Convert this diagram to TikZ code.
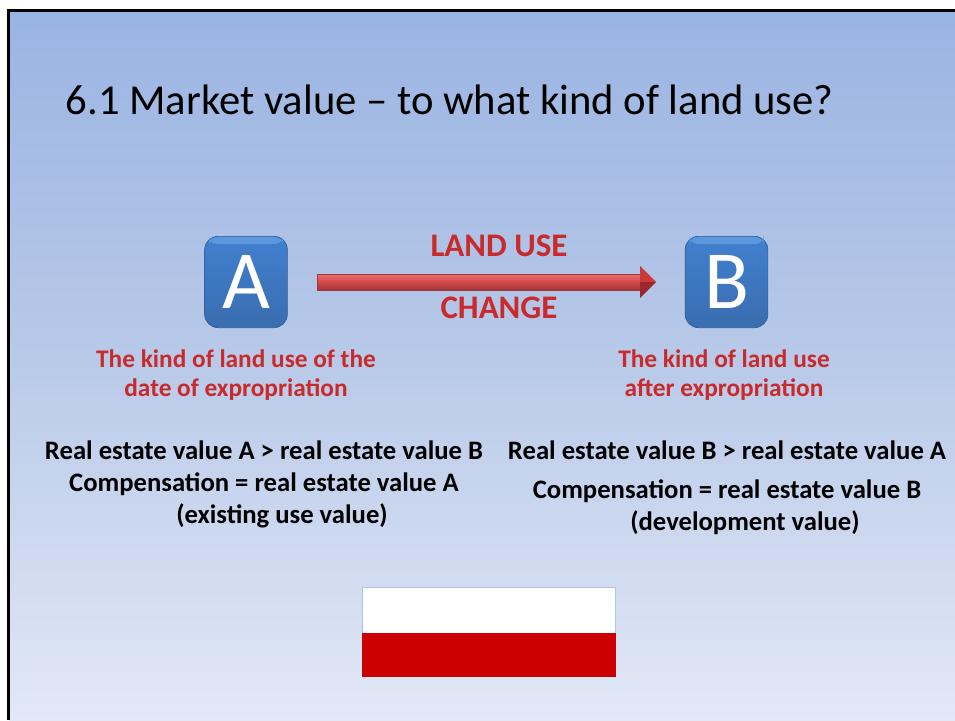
\documentclass[tikz,border=0pt]{standalone}
\usepackage{fontspec}
\setmainfont{Carlito}
\usetikzlibrary{calc}
\definecolor{bgtop}{HTML}{9AB4E2}
\definecolor{bgmid}{HTML}{B9CAE9}
\definecolor{bgbot}{HTML}{E2E8F6}
\definecolor{boxtop}{HTML}{4180CF}
\definecolor{boxbot}{HTML}{3A6DB0}
\definecolor{boxhi}{HTML}{5C97DD}
\definecolor{labred}{HTML}{C92A2A}
\definecolor{arrowtop}{HTML}{EE6E6E}
\definecolor{arrowmid}{HTML}{CF4A4A}
\definecolor{arrowbot}{HTML}{A03636}
\definecolor{headup}{HTML}{C93A3A}
\definecolor{headlow}{HTML}{9A2A2A}
\definecolor{flagred}{HTML}{CC0000}
\tikzset{
  x=0.75pt,y=-0.75pt,
  letterbox/.style={rounded corners=10pt,top color=boxtop,bottom color=boxbot,draw=boxbot!85!black,line width=0.5pt,
    minimum width=62pt,minimum height=68.5pt,text=white,inner sep=0pt,font=\fontsize{62}{62}\selectfont},
  redlabel/.style={text=labred,font=\bfseries\fontsize{19}{21.75}\selectfont,align=center,inner sep=0pt},
  bigred/.style={text=labred,font=\bfseries\fontsize{24.7}{28}\selectfont,inner sep=0pt},
  bodytext/.style={text=black,font=\bfseries\fontsize{20}{24}\selectfont,inner sep=0pt,align=center},
}
\begin{document}
\begin{tikzpicture}
\useasboundingbox (0,0) rectangle (955,720);
\fill[white] (0,0) rectangle (955,720);
\shade[top color=bgtop,bottom color=bgbot,middle color=bgmid] (9,11) rectangle (955,720);
\draw[black,line width=2.4pt] (8.5,720) -- (8.5,10.5) -- (955,10.5);
\node[anchor=west,inner sep=0pt,font=\fontsize{32}{38}\selectfont] (title) at (65.5,100) {6.1 Market value – to what kind of land use?};
\node[letterbox] (a) at (246,282) {A\hspace{3pt}};
\node[letterbox] (b) at (726.5,282) {B};
\fill[boxhi,rounded corners=6pt] (209,237) rectangle (283,244);
\fill[boxhi,rounded corners=6pt] (689.5,237) rectangle (763.5,244);
\coordinate (arrowstart) at (317,282);
\coordinate (arrowend) at (656,282);
\shade[top color=arrowtop,bottom color=arrowbot,middle color=arrowmid,draw=arrowbot,line width=0.3pt]
  (arrowstart) ++(0,-8) -- (641,274) -- (641,290) -- (317,290) -- cycle;
\fill[headup] (640,266) -- (arrowend) -- (640,282) -- cycle;
\fill[headlow] (640,298) -- (arrowend) -- (640,282) -- cycle;
\node[bigred] (landuse) at (499,246) {LAND USE};
\node[bigred] (change) at (499,308) {CHANGE};
\node[redlabel] (la) at (236,375) {The kind of land use of the\\date of expropriation};
\node[redlabel] (lb) at (724,375) {The kind of land use\\after expropriation};
\node[bodytext] (t1) at (264,450.5) {Real estate value A > real estate value B};
\node[bodytext] (t2) at (264,484.5) {Compensation = real estate value A};
\node[bodytext] (t3) at (282,515.5) {(existing use value)};
\node[bodytext] (t4) at (727,450.5) {Real estate value B > real estate value A};
\node[bodytext] (t5) at (727,491.5) {Compensation = real estate value B};
\node[bodytext] (t6) at (745,523) {(development value)};
\fill[white] (362,587) rectangle (615.5,633);
\fill[flagred] (362,633) rectangle (615.5,677);
\draw[bgtop!80!white,line width=0.5pt] (362,633) -- (362,587) -- (615.5,587) -- (615.5,633);
\end{tikzpicture}
\end{document}
